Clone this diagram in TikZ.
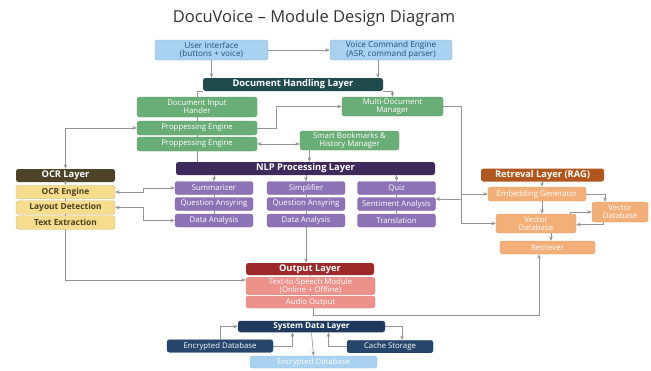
\documentclass[tikz,border=0pt]{standalone}
\usepackage{fontspec}
\setmainfont{Open Sans}
\usetikzlibrary{arrows.meta,calc,positioning}
\definecolor{uiblue}{HTML}{A9D2F0}
\definecolor{uitext}{HTML}{24507A}
\definecolor{dochead}{HTML}{1F4B4D}
\definecolor{docgreen}{HTML}{6AAE77}
\definecolor{nlphead}{HTML}{3E2B5C}
\definecolor{nlpsub}{HTML}{8D73B6}
\definecolor{ocrhead}{HTML}{4C4328}
\definecolor{ocrsub}{HTML}{F6DC8D}
\definecolor{ocrtext}{HTML}{4A3F1F}
\definecolor{raghead}{HTML}{B0561F}
\definecolor{ragsub}{HTML}{F2B078}
\definecolor{outhead}{HTML}{9C2A2A}
\definecolor{outsub}{HTML}{EC928B}
\definecolor{datahead}{HTML}{1F3A5C}
\definecolor{datasub}{HTML}{27466C}
\definecolor{wire}{HTML}{959595}
\tikzset{>={Stealth[length=4.5pt,width=3.6pt]},
  every node/.style={font=\fontsize{7.8}{8.2}\selectfont},
  box/.style={rectangle,rounded corners=2.5pt,align=center,inner sep=1pt,line width=.4pt},
  head/.style={box,text=white,font=\fontsize{9.3}{10}\selectfont\bfseries},
  lightbox/.style={box,fill=uiblue,draw=uiblue!85!black,text=uitext,font=\fontsize{8.2}{8.8}\selectfont},
  greenbox/.style={box,fill=docgreen,draw=docgreen!90!black,text=white},
  purplebox/.style={box,fill=nlpsub,draw=nlpsub!90!black,text=white,minimum width=78pt,minimum height=13pt},
  yellowbox/.style={box,fill=ocrsub,draw=ocrsub!85!black,text=ocrtext,font=\fontsize{8.4}{9}\selectfont\bfseries,minimum width=99pt,minimum height=13.5pt},
  orangebox/.style={box,fill=ragsub,draw=ragsub!90!black,text=white},
  salmonbox/.style={box,fill=outsub,draw=outsub!90!black,text=white,minimum width=129pt},
  navybox/.style={box,fill=datasub,draw=datasub!80!black,text=white,minimum height=12.5pt},
  wire/.style={draw=wire,line width=.6pt},
  arr/.style={wire,->},
  darr/.style={wire,<->}}
\begin{document}
\begin{tikzpicture}[x=1pt,y=-1pt]
\useasboundingbox[fill=white] (0,0) rectangle (651,370);
\node[font=\fontsize{16.5}{18}\selectfont,text=black!80] (title) at (314,18) {DocuVoice -- Module Design Diagram};
% top row
\node[lightbox,minimum width=113pt,minimum height=20pt] (ui) at (211.5,50) {User Interface\\(buttons + voice)};
\node[lightbox,minimum width=122pt,minimum height=20pt] (vce) at (391,50) {Voice Command Engine\\(ASR, command parser)};
% document handling
\node[head,fill=dochead,minimum width=180pt,minimum height=13pt] (dhl) at (293,84.5) {Document Handling Layer};
\node[greenbox,minimum width=120pt,minimum height=20pt] (dih) at (197,107) {Document Input\\Hander};
\node[greenbox,minimum width=120pt,minimum height=14pt] (pe1) at (197,128) {Proppessing Engine};
\node[greenbox,minimum width=120pt,minimum height=14pt] (pe2) at (197,144) {Proppessing Engine};
\node[greenbox,minimum width=101pt,minimum height=19pt] (mdm) at (392.5,106.5) {Multi-Document\\Manager};
\node[greenbox,minimum width=99pt,minimum height=19pt] (sbhm) at (349.5,140.5) {Smart Bookmarks \&\\History Manager};
% nlp
\node[head,fill=nlphead,minimum width=259pt,minimum height=13pt] (nlp) at (305.5,168.5) {NLP Processing Layer};
\node[purplebox] (summ) at (214,188) {Summarizer};
\node[purplebox] (qa1) at (214,204) {Question Ansyring};
\node[purplebox] (data1) at (214,220.5) {Data Analysis};
\node[purplebox] (simp) at (306,188) {Simplifier};
\node[purplebox] (qa2) at (306,204) {Question Ansyring};
\node[purplebox] (data2) at (306,220.5) {Data Analysis};
\node[purplebox] (quiz) at (396.5,188) {Quiz};
\node[purplebox] (sent) at (396.5,204) {Sentiment Analysis};
\node[purplebox] (trans) at (396.5,220.5) {Translation};
% ocr
\node[head,fill=ocrhead,minimum width=99pt,minimum height=13pt] (ocr) at (65.5,175.5) {OCR Layer};
\node[yellowbox] (ocre) at (65.5,192) {OCR Engine};
\node[yellowbox] (layd) at (65.5,207.5) {Layout Detection};
\node[yellowbox] (txte) at (65.5,222.5) {Text Extraction};
% retrieval
\node[head,fill=raghead,minimum width=123pt,minimum height=13pt] (rag) at (542.5,175) {Retreval Layer (RAG)};
\node[orangebox,minimum width=98pt,minimum height=14pt] (emb) at (537,194) {Embedding Generator};
\node[orangebox,minimum width=80pt,minimum height=19pt] (vdb) at (536,223.5) {Vector\\Database};
\node[orangebox,minimum width=56pt,minimum height=20pt] (vdbx) at (620,212) {Vector\\Database};
\node[orangebox,minimum width=95pt,minimum height=13pt] (retr) at (547.5,247.5) {Retriever};
% output
\node[head,fill=outhead,minimum width=128pt,minimum height=12pt] (outl) at (310,269) {Output Layer};
\node[salmonbox,minimum height=16pt] (tts) at (310.5,286) {Text-to-Speech Module\\(Online + Offline)};
\node[salmonbox,minimum height=12pt] (aud) at (310.5,302) {Audio Output};
% system data
\node[head,fill=datahead,minimum width=147pt,minimum height=11.5pt,font=\fontsize{8.2}{9}\selectfont\bfseries] (sdl) at (311.5,326.5) {System Data Layer};
\node[navybox,minimum width=106pt] (encd) at (220,346) {Encrypted Database};
\node[navybox,minimum width=86pt] (cache) at (390,346.5) {Cache Storage};
\node[box,fill=uiblue,draw=uiblue!90!black,text=white,minimum width=127pt,minimum height=12pt] (encl) at (313.5,362) {Encrypted Database};
% connectors
\draw[arr] (ui) -- (vce);
\draw[arr] (ui.south) -- (ui.south |- dhl.north);
\draw[arr] ([xshift=-13pt]vce.south) -- ([xshift=-13pt]vce.south |- dhl.north);
\draw[wire] (dhl.south west) -| (dih.north);
\draw[arr] (dhl.south east) -| (mdm.north);
\draw[wire] (dih) -- (pe1);
\draw[wire] (pe1) -- (pe2);
\draw[arr] (pe1.east) -- ++(19,0) |- (mdm.west);
\draw[darr] (pe2.east) -- (sbhm.west |- pe2.east);
\draw[wire] (pe2.south) -- (pe2.south |- nlp.north);
\draw[arr] ([xshift=-40pt]sbhm.south) -- ([xshift=-40pt]sbhm.south |- nlp.north);
\draw[darr] (ocr.north) |- (pe1.west);
\foreach \col in {summ,simp,quiz} \draw[arr] (\col.north |- nlp.south) -- (\col.north);
\draw[wire] (summ) -- (qa1) (qa1) -- (data1);
\draw[wire] (simp) -- (qa2) (qa2) -- (data2);
\draw[wire] (quiz) -- (sent) (sent) -- (trans);
\draw[arr] (ocr) -- (ocre);
\draw[wire] (ocre) -- (layd) (layd) -- (txte);
\draw[darr] (ocre.east) -- ++(28,0) |- (summ.west);
\draw[darr] (layd.east) -- ++(28,0) |- (data1.west);
\draw[arr] (txte.south) |- ([yshift=6pt]tts.west);
\draw[arr] (mdm.east) -- ++(18,0) |- (vdb.west);
\draw[arr] ($(mdm.east)+(18,0)$) |- (emb.west);
\draw[arr] ($(mdm.east)+(18,0)$) |- ([yshift=5pt]sent.east);
\draw[arr] (rag.south -| emb.south) ++(5,0) coordinate (ragdrop) -- (ragdrop |- emb.north);
\draw[arr] (ragdrop |- emb.south) -- (ragdrop |- vdb.north);
\draw[arr] (emb.east) -| (vdbx.north -| 605,0);
\draw[arr] ([xshift=-6pt]vdb.north east) |- (vdbx.west);
\draw[arr] ([xshift=11pt]vdbx.south west) |- ([yshift=-1pt]vdb.east);
\draw[arr] ([xshift=15pt]vdb.south) -- ([xshift=15pt]vdb.south |- retr.north);
\draw[arr] (data2.south) -- (data2.south |- outl.north);
\draw[wire] (outl) -- (tts) (tts) -- (aud);
\draw[arr] ([xshift=3pt]aud.south) |- (539,315) -- (539,0 |- retr.south);
\draw[arr] (encd.north) |- (sdl.west);
\draw[arr] (encd.east) -| ([xshift=-19pt]sdl.south);
\draw[arr] (cache.west) -| ([xshift=17pt]sdl.south);
\draw[arr] (sdl.east) -| (cache.north -| 402,0);
\draw[arr] (sdl.south) -- (encl.north);
\end{tikzpicture}
\end{document}
